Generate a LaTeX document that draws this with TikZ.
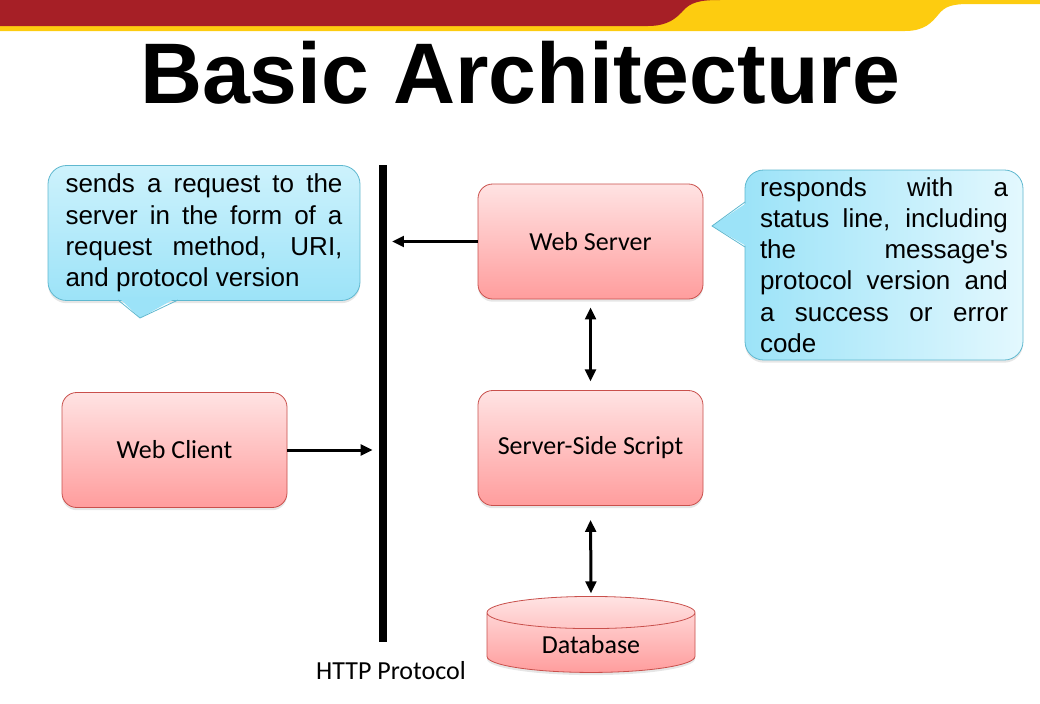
\documentclass[tikz,border=0pt]{standalone}
\usepackage{fontspec}
\setmainfont{Liberation Sans}
\newfontfamily\calibri{Carlito}
\usetikzlibrary{shapes.geometric, arrows.meta, shadows}

\definecolor{bandred}{HTML}{A61F26}
\definecolor{bandyellow}{HTML}{FDCC10}
\definecolor{boxtop}{HTML}{FFE3E3}
\definecolor{boxbottom}{HTML}{FF9D9D}
\definecolor{boxline}{HTML}{C9504C}
\definecolor{bubbletop}{HTML}{CDF2FC}
\definecolor{bubblebottom}{HTML}{9CE3F8}
\definecolor{bubbleright}{HTML}{E3F8FE}
\definecolor{bubbleline}{HTML}{5FB8CF}

\begin{document}
\begin{tikzpicture}
[x=0.75pt, y=-0.75pt,
 block/.style={rectangle, rounded corners=11pt, draw=boxline, line width=0.6pt, top color=boxtop, bottom color=boxbottom, minimum width=168.75pt, minimum height=86.25pt, font=\calibri\fontsize{19.5pt}{22pt}\selectfont, drop shadow={opacity=0.2, shadow xshift=0pt, shadow yshift=-2pt}},
 bubble/.style={rectangle, rounded corners=14pt, draw=bubbleline, line width=0.6pt, align=justify, inner xsep=0pt, font=\fontsize{19.5pt}{23.4pt}\selectfont, drop shadow={opacity=0.2, shadow xshift=0pt, shadow yshift=-2pt}},
 link/.style={line width=2.25pt, -{Triangle[length=9pt, width=8pt]}, color=black}]
\useasboundingbox (0,0) rectangle (1040,704);

% header band
\fill [bandyellow] (0,0) -- (1040,0) -- (1040,4) -- (970,4) .. controls (952,4) and (945,6) .. (938,15) .. controls (932,22) and (925,31) .. (905,31) -- (0,31) -- cycle;
\fill [bandred] (0,0) -- (720,0) .. controls (700,0) and (690,2) .. (682,12) .. controls (676,18) and (668,26) .. (648,26) -- (0,26) -- cycle;
\node (title) [anchor=base, font=\bfseries\fontsize{64.5pt}{70pt}\selectfont] at (520,103) {Basic Architecture};

% protocol bar
\node (bar) [fill=black, inner sep=0pt, minimum width=6pt, minimum height=357.75pt] at (383,403.5) {};
\node (http) [font=\calibri\fontsize{19.5pt}{22pt}\selectfont] at (391,671) {HTTP Protocol};

% boxes
\node (ws) [block] at (590.5,241.5) {Web Server};
\node (sss) [block] at (590.5,448) {Server-Side Script};
\node (wc) [block] at (174.5,450) {Web Client};
\node (db) [cylinder, shape border rotate=90, aspect=0.3, draw=boxline, line width=0.6pt, top color=boxtop, bottom color=boxbottom, minimum width=156pt, minimum height=57pt, font=\calibri\fontsize{19.5pt}{22pt}\selectfont, drop shadow={opacity=0.2, shadow xshift=0pt, shadow yshift=-2pt}] at (591,645) {Database};

% callouts
\node (req) [bubble, top color=bubbletop, bottom color=bubblebottom, text width=207.75pt, minimum width=234pt, minimum height=101.25pt] at (204,233) {sends a request to the\linebreak server in the form of a\linebreak request method, URI,\linebreak and protocol version};
\fill [bubblebottom] (118,297) -- (140,318) -- (178,297) -- cycle;
\draw [bubbleline, line width=0.6pt] (118,300) -- (140,318) -- (178,300);
\node (resp) [bubble, left color=bubblebottom, right color=bubbleright, text width=186pt, minimum width=208.5pt, minimum height=142.5pt] at (884,265) {responds with a\linebreak status line, including\linebreak the message\textquotesingle s\linebreak protocol version and\linebreak a success or error\linebreak code};
\fill [bubblebottom] (748,202) -- (712,226) -- (748,247) -- cycle;
\draw [bubbleline, line width=0.6pt] (745,202) -- (712,226) -- (745,247);

% connectors
\draw [link, shorten >=3.5pt] (ws.west) -- (bar.east |- ws.west);
\draw [link, shorten >=4.5pt] (wc.east) -- (bar.west |- wc.east);
\draw [link, {Triangle[length=9pt, width=8pt]}-{Triangle[length=9pt, width=8pt]}, shorten <=6pt, shorten >=6.5pt] (ws.south) -- (sss.north);
\draw [link, {Triangle[length=9pt, width=8pt]}-{Triangle[length=9pt, width=8pt]}, shorten <=10.5pt, shorten >=2pt] (sss.south) -- (db.north);
\end{tikzpicture}
\end{document}
